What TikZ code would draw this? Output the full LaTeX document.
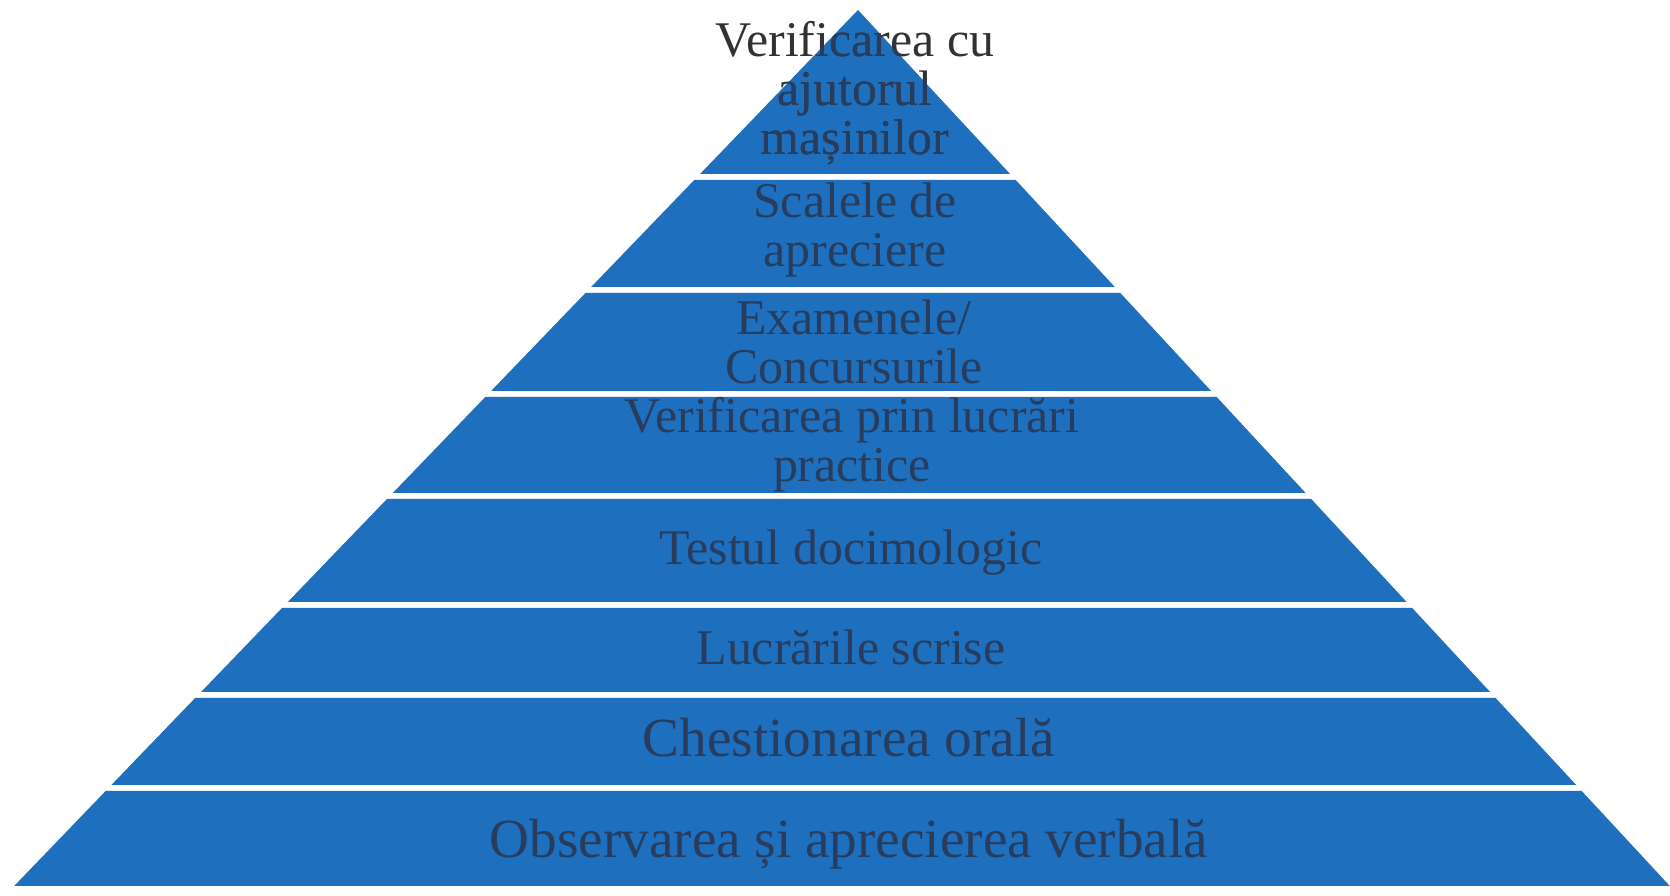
\documentclass[tikz,border=0pt]{standalone}
\usepackage{fontspec}
\setmainfont{Liberation Serif}
\definecolor{pyrblue}{RGB}{30,111,189}
\definecolor{labelblue}{RGB}{40,60,94}
\definecolor{labelgray}{RGB}{48,50,54}
\tikzset{
  band/.style={fill=pyrblue,draw=none},
  bandlabel/.style={font=\fontsize{14.2}{14}\selectfont,text=labelblue,align=center,anchor=base,inner sep=0pt},
  biglabel/.style={bandlabel,font=\fontsize{15.7}{15}\selectfont},
}
\begin{document}
\begin{tikzpicture}
\fill[white] (0,0) rectangle (16.70,8.96);
\useasboundingbox (0,0) rectangle (16.70,8.96);
\fill[band] (8.58,8.86) -- (10.101,7.22) -- (7.001,7.22) -- cycle;
\fill[band] (6.943,7.16) -- (10.157,7.16) -- (11.148,6.09) -- (5.912,6.09) -- cycle;
\fill[band] (5.855,6.03) -- (11.203,6.03) -- (12.111,5.05) -- (4.911,5.05) -- cycle;
\fill[band] (4.853,4.99) -- (12.167,4.99) -- (13.056,4.03) -- (3.928,4.03) -- cycle;
\fill[band] (3.870,3.97) -- (13.112,3.97) -- (14.066,2.94) -- (2.878,2.94) -- cycle;
\fill[band] (2.820,2.88) -- (14.122,2.88) -- (14.901,2.04) -- (2.011,2.04) -- cycle;
\fill[band] (1.952,1.98) -- (14.956,1.98) -- (15.762,1.11) -- (1.114,1.11) -- cycle;
\fill[band] (1.057,1.05) -- (15.817,1.05) -- (16.698,0.10) -- (0.142,0.10) -- cycle;

\node[bandlabel,text=labelgray] (machines) at (8.55,7.41) {Verificarea cu\\ajutorul\\mașinilor};
\begin{scope}
\clip (8.58,8.86) -- (10.101,7.22) -- (7.001,7.22) -- cycle;
\node[bandlabel] (machinesin) at (8.55,7.41) {Verificarea cu\\ajutorul\\mașinilor};
\end{scope}
\node[bandlabel] (scales) at (8.55,6.29) {Scalele de\\apreciere};
\node[bandlabel] (exams) at (8.54,5.12) {Examenele/\\Concursurile};
\node[bandlabel] (practice) at (8.52,4.14) {Verificarea prin lucrări\\practice};
\node[bandlabel] (test) at (8.51,3.31) {Testul docimologic};
\node[bandlabel] (written) at (8.51,2.31) {Lucrările scrise};
\node[biglabel] (oral) at (8.49,1.39) {Chestionarea orală};
\node[biglabel] (observe) at (8.49,0.38) {Observarea și aprecierea verbală};
\end{tikzpicture}
\end{document}
